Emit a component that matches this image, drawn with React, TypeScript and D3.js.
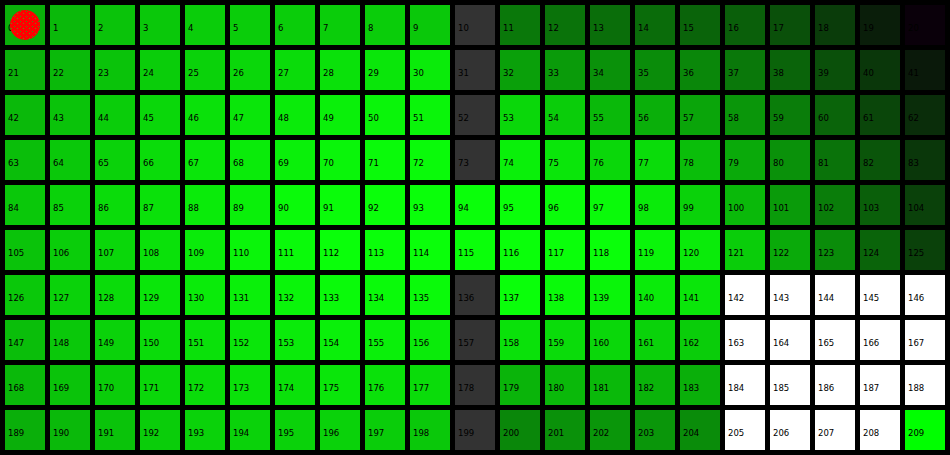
import React, { useEffect, useRef } from "react";
import * as d3 from "d3";

// green level (0-255) per cell, one array per row of 21 cells
const row0 = [175, 185, 195, 200, 205, 205, 205, 205, 205, 200, 0, 120, 115, 110, 108, 100, 95, 80, 60, 30, 0];
const row1 = [175, 185, 195, 205, 210, 215, 220, 225, 230, 235, 0, 160, 155, 145, 140, 135, 120, 100, 80, 55, 25];
const row2 = [185, 195, 205, 215, 225, 230, 235, 240, 245, 245, 0, 215, 205, 185, 175, 165, 150, 125, 100, 70, 45];
const row3 = [190, 200, 210, 220, 230, 235, 240, 245, 250, 250, 0, 240, 230, 215, 220, 190, 170, 145, 115, 85, 55];
const row4 = [200, 210, 220, 225, 235, 240, 250, 252, 255, 255, 255, 255, 252, 250, 235, 210, 185, 155, 125, 95, 65];
const row5 = [195, 205, 215, 225, 235, 245, 250, 255, 255, 255, 255, 255, 255, 255, 245, 235, 205, 170, 140, 100, 65];
const row6 = [200, 210, 220, 230, 235, 240, 245, 250, 250, 250, 0, 255, 250, 245, 235, 230, 0, 0, 0, 0, 0];
const row7 = [190, 200, 210, 220, 225, 230, 235, 240, 240, 235, 0, 225, 220, 215, 210, 205, 0, 0, 0, 0, 0];
const row8 = [185, 195, 205, 215, 220, 225, 225, 230, 225, 220, 0, 180, 185, 185, 180, 175, 0, 0, 0, 0, 0];
const row9 = [175, 185, 195, 205, 210, 210, 210, 210, 205, 200, 0, 135, 145, 150, 150, 140, 0, 0, 0, 0, 255];

const rows = [row0, row1, row2, row3, row4, row5, row6, row7, row8, row9];

// cells switched off (grey) and empty (white)
const offCells = [10, 31, 52, 73, 136, 157, 178, 199];
const emptyCells = [142, 143, 144, 145, 146, 163, 164, 165, 166, 167, 184, 185, 186, 187, 188, 205, 206, 207, 208];
const peakCell = 209;
const markedCell = 0;

export default function App() {
    const ref = useRef<SVGSVGElement>(null);

    useEffect(() => {
        const width = 950, height = 455;
        const nCols = 21, nRows = rows.length;

        const svg = d3.select(ref.current);
        svg.selectAll("*").remove();
        svg.attr("width", width).attr("height", height);

        // speckled red fill for the marker
        const pat = svg.append("defs").append("pattern")
            .attr("id", "speckle")
            .attr("patternUnits", "userSpaceOnUse")
            .attr("width", 6).attr("height", 5);
        pat.append("rect").attr("width", 6).attr("height", 5).attr("fill", "#ff0000");
        pat.append("rect").attr("x", 2).attr("y", 1).attr("width", 1).attr("height", 1).attr("fill", "#3a9a10");
        pat.append("rect").attr("x", 5).attr("y", 3).attr("width", 1).attr("height", 1).attr("fill", "#6a8a10");

        svg.append("rect").attr("width", width).attr("height", height).attr("fill", "#000");

        const x = d3.scaleBand<number>()
            .domain(d3.range(nCols))
            .range([0, width])
            .paddingInner(1 / 9)
            .paddingOuter(1 / 9);

        const y = d3.scaleBand<number>()
            .domain(d3.range(nRows))
            .range([0, height])
            .paddingInner(1 / 9)
            .paddingOuter(1 / 9);

        const color = d3.scaleLinear<string>()
            .domain([0, 255])
            .range(["#0a000a", "#0aff0a"]);

        const cells = rows.flatMap((r, ri) => r.map((v, ci) => ({
            id: ri * nCols + ci, row: ri, col: ci, value: v
        })));

        const fill = (d: any) => {
            if (offCells.includes(d.id)) return "#333333";
            if (emptyCells.includes(d.id)) return "#ffffff";
            if (d.id === peakCell) return "#00ff00";
            return color(d.value);
        };

        const g = svg.selectAll("g.cell")
            .data(cells)
            .enter()
            .append("g")
            .attr("class", "cell")
            .attr("transform", d => `translate(${x(d.col)},${y(d.row)})`);

        g.append("rect")
            .attr("width", x.bandwidth())
            .attr("height", y.bandwidth())
            .attr("fill", fill);

        g.append("text")
            .attr("x", 3)
            .attr("y", 26)
            .attr("font-family", "DejaVu Sans, sans-serif")
            .attr("font-size", 8.5)
            .attr("fill", "#000")
            .text(d => d.id);

        const m = cells.find(d => d.id === markedCell)!;
        svg.append("circle")
            .attr("cx", x(m.col)! + x.bandwidth() / 2)
            .attr("cy", y(m.row)! + y.bandwidth() / 2)
            .attr("r", 15)
            .attr("fill", "url(#speckle)");
    }, []);

    return (
        <svg ref={ref} style={{ position: "absolute", left: 0, top: 0, display: "block" }}></svg>
    );
}
